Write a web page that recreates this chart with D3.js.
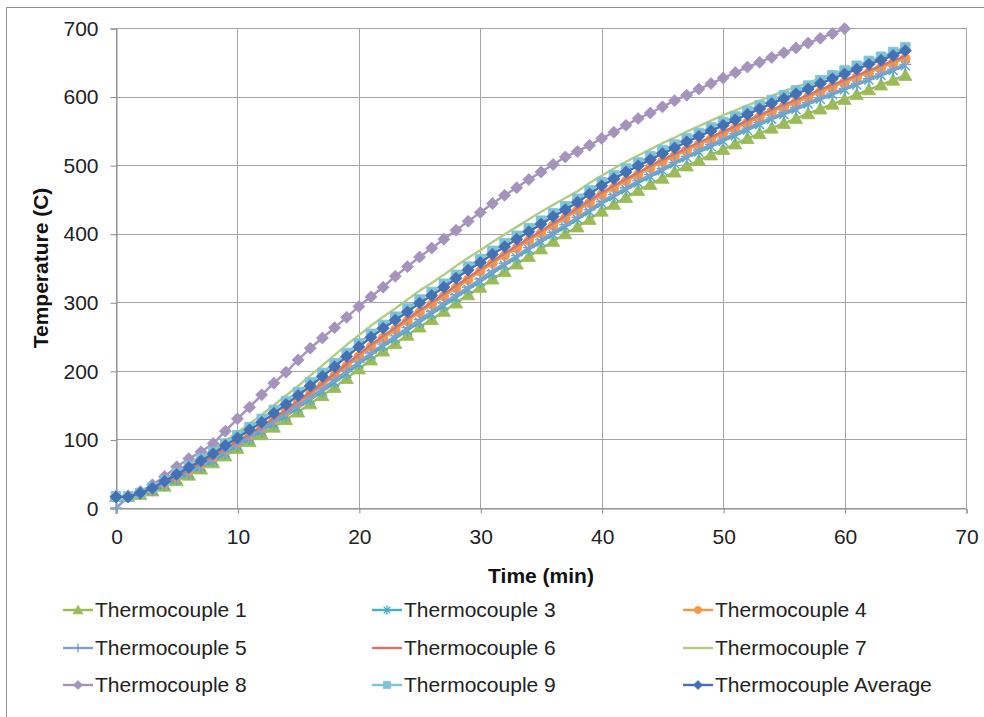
<!DOCTYPE html>
<html><head><meta charset="utf-8">
<script src="https://cdn.jsdelivr.net/npm/d3@7"></script>
<style>
html,body{margin:0;padding:0;background:#fff;}
svg{display:block;font-family:"Liberation Sans Narrow","Liberation Sans",Arial,sans-serif;}
</style></head>
<body><svg id="chart" width="984" height="717"></svg>
<script>
const times = [0,1,2,3,4,5,6,7,8,9,10,11,12,13,14,15,16,17,18,19,20,21,22,23,24,25,26,27,28,29,30,31,32,33,34,35,36,37,38,39,40,41,42,43,44,45,46,47,48,49,50,51,52,53,54,55,56,57,58,59,60,61,62,63,64,65];
const xTicks = [0,10,20,30,40,50,60,70];
const yTicks = [0,100,200,300,400,500,600,700];
const seriesNames = ["Thermocouple 1","Thermocouple 3","Thermocouple 4","Thermocouple 5","Thermocouple 6","Thermocouple 7","Thermocouple 8","Thermocouple 9","Thermocouple Average"];

const tc1 = [17,17,20,25,32,40,48,57,66,76,87,97,107,118,129,140,152,164,176,189,203,216,229,240,252,264,275,287,299,311,322,334,345,356,367,378,389,400,410,421,433,443,453,463,472,481,490,499,507,515,523,531,539,546,554,561,568,575,582,589,596,603,610,617,624,631];
const tc3 = [17,17,21,26,34,42,51,60,69,80,91,101,112,123,134,146,158,170,183,196,210,223,236,247,259,271,283,295,307,319,330,342,354,365,377,388,399,410,421,432,444,454,464,474,483,492,502,511,519,527,535,543,551,559,567,574,581,589,596,603,610,617,624,631,638,645];
const tc4 = [17,17,21,27,36,45,54,64,74,85,95,106,117,129,141,153,166,179,193,207,221,235,248,260,273,285,297,309,321,333,345,357,368,379,390,401,412,423,434,445,457,467,477,486,496,505,513,522,530,538,546,554,562,570,578,585,592,599,607,614,621,628,635,642,649,656];
const tc5 = [0,16,21,27,35,44,53,62,72,82,93,104,115,126,138,150,162,174,187,200,213,226,239,251,263,275,287,299,311,322,334,346,357,368,380,391,402,413,424,435,447,457,467,477,486,495,504,513,522,530,538,546,554,562,569,577,584,591,598,605,612,619,626,633,640,647];
const tc6 = [17,17,22,28,37,46,56,66,76,87,97,108,119,131,143,156,169,182,196,210,224,238,251,263,276,288,300,312,324,336,348,360,371,382,393,404,415,426,437,448,460,470,480,489,499,508,516,525,533,541,549,557,565,573,581,588,595,602,610,617,624,631,638,645,652,659];
const tc7 = [17,17,23,31,41,52,63,74,85,98,110,123,136,150,164,178,193,208,223,238,252,266,279,291,304,317,328,340,353,365,376,388,399,410,421,432,442,452,462,474,485,495,505,514,523,532,540,549,557,565,573,580,587,594,601,608,614,620,627,633,639,645,651,657,663,669];
const tc8 = [17,18,24,34,46,60,72,82,94,112,130,147,165,182,198,216,233,248,263,278,294,308,322,338,352,366,379,392,405,418,431,444,456,467,479,490,501,512,520,529,539,548,558,568,576,585,594,602,611,619,627,635,643,650,657,664,671,678,685,692,699];
const tc9 = [17,17,22,30,40,51,61,72,82,94,106,118,130,143,156,169,183,197,211,226,240,254,267,279,291,304,315,327,340,352,363,375,386,397,408,419,430,440,451,463,475,485,495,504,513,522,530,539,547,555,563,571,579,587,595,602,609,616,624,631,638,645,652,658,665,672];
const tcAvg = [16,16,22,29,39,49,59,69,79,91,102,114,125,138,151,164,178,192,206,221,235,249,262,274,286,299,310,322,335,347,358,370,381,392,403,414,425,435,446,458,470,480,490,499,508,517,525,534,542,550,558,566,574,582,590,597,604,611,619,626,633,640,647,653,660,667];

const seriesValues = [tc1,tc3,tc4,tc5,tc6,tc7,tc8,tc9,tcAvg];
const colors = ["#9BBB59","#4BACC6","#F79646","#7F9FCF","#D0766F","#B3CC82","#A593BE","#7EC3D6","#4471B4"];
const markers = ["triangle","asterisk","circle","plus","none","none","diamond","square","diamond"];

const svg = d3.select("#chart");
const plot = {left:116, right:966, top:28, bottom:508};

// outer frame
svg.append("rect").attr("x",6.5).attr("y",7.5).attr("width",990).attr("height",720)
  .attr("fill","#fff").attr("stroke","#8f8f8f").attr("stroke-width",1);

const x = d3.scaleLinear().domain([0,70]).range([plot.left, plot.right]);
const y = d3.scaleLinear().domain([0,700]).range([plot.bottom, plot.top]);

// gridlines
const g = svg.append("g");
g.selectAll(".hg").data(yTicks).join("line")
  .attr("x1",plot.left).attr("x2",plot.right)
  .attr("y1",d=>Math.round(y(d))+0.5).attr("y2",d=>Math.round(y(d))+0.5)
  .attr("stroke","#A4A4A4").attr("stroke-width",1);
g.selectAll(".vg").data(xTicks).join("line")
  .attr("y1",plot.top).attr("y2",plot.bottom)
  .attr("x1",d=>Math.round(x(d))+0.5).attr("x2",d=>Math.round(x(d))+0.5)
  .attr("stroke","#A4A4A4").attr("stroke-width",1);

// axes
const yAxis = d3.axisLeft(y).tickValues(yTicks).tickSize(6).tickPadding(12);
const xAxis = d3.axisBottom(x).tickValues(xTicks).tickSize(5).tickPadding(12);
const ya = svg.append("g").attr("transform",`translate(${plot.left+0.5},0.5)`).call(yAxis);
const xa = svg.append("g").attr("transform",`translate(0.5,${plot.bottom+0.5})`).call(xAxis);
[ya,xa].forEach(a=>{
  a.select(".domain").attr("stroke","#8A8A8A");
  a.selectAll(".tick line").attr("stroke","#8A8A8A");
  a.selectAll("text").attr("font-size",21).attr("fill","#222")
   .attr("font-family",'"Liberation Sans Narrow","Liberation Sans",Arial,sans-serif');
});
xa.selectAll("text").attr("dy","0.9em");

// titles
svg.append("text").attr("x",541).attr("y",583).attr("text-anchor","middle")
  .attr("font-size",21).attr("font-weight","bold").attr("fill","#111").text("Time (min)");
svg.append("text").attr("transform","translate(48,268) rotate(-90)").attr("text-anchor","middle")
  .attr("font-size",21).attr("font-weight","bold").attr("fill","#111").text("Temperature (C)");

function markerPath(type, r){
  switch(type){
    case "triangle": return `M0,${-r*1.05}L${r*1.1},${r*0.85}L${-r*1.1},${r*0.85}Z`;
    case "diamond": return `M0,${-r}L${r},0L0,${r}L${-r},0Z`;
    case "square": return `M${-r*0.8},${-r*0.8}h${r*1.6}v${r*1.6}h${-r*1.6}Z`;
    case "circle": return `M${r*0.8},0A${r*0.8},${r*0.8} 0 1,1 ${-r*0.8},0A${r*0.8},${r*0.8} 0 1,1 ${r*0.8},0Z`;
    case "plus": return `M0,${-r}V${r}M${-r},0H${r}`;
    case "asterisk": return `M${-r*0.75},${-r*0.75}L${r*0.75},${r*0.75}M${-r*0.75},${r*0.75}L${r*0.75},${-r*0.75}M0,${-r}V${r}`;
    default: return "";
  }
}
function drawMarker(sel, type, color, r){
  const stroked = (type==="plus"||type==="asterisk");
  sel.attr("d",markerPath(type,r))
    .attr("fill", stroked ? "none" : color)
    .attr("stroke", color)
    .attr("stroke-width", stroked ? 1.4 : 0.8);
}

const line = d3.line().x((d,i)=>x(times[i])).y(d=>y(d));
const series = svg.append("g");
seriesValues.forEach((vals,k)=>{
  const sg = series.append("g");
  sg.append("path").datum(vals).attr("d",line).attr("fill","none")
    .attr("stroke",colors[k]).attr("stroke-width",2.4).attr("stroke-linejoin","round");
  if(markers[k]!=="none"){
    sg.selectAll("path.m").data(vals).join("path").attr("class","m")
      .attr("transform",(d,i)=>`translate(${x(times[i])},${y(d)})`)
      .call(s=>drawMarker(s,markers[k],colors[k],6));
  }
});

// legend
const legCols = [63,372,683];
const legRows = [610,648,685];
const leg = svg.append("g");
seriesNames.forEach((name,k)=>{
  const cx = legCols[k%3], cy = legRows[Math.floor(k/3)];
  const lg = leg.append("g").attr("transform",`translate(${cx},${cy})`);
  lg.append("line").attr("x1",0).attr("x2",30).attr("y1",0).attr("y2",0)
    .attr("stroke",colors[k]).attr("stroke-width",2.4);
  if(markers[k]!=="none"){
    lg.append("path").attr("transform","translate(15,0)").call(s=>drawMarker(s,markers[k],colors[k],4.5));
  }
  lg.append("text").attr("x",32).attr("y",0).attr("dy","0.35em")
    .attr("font-size",21).attr("fill","#222").text(name);
});
</script></body></html>
